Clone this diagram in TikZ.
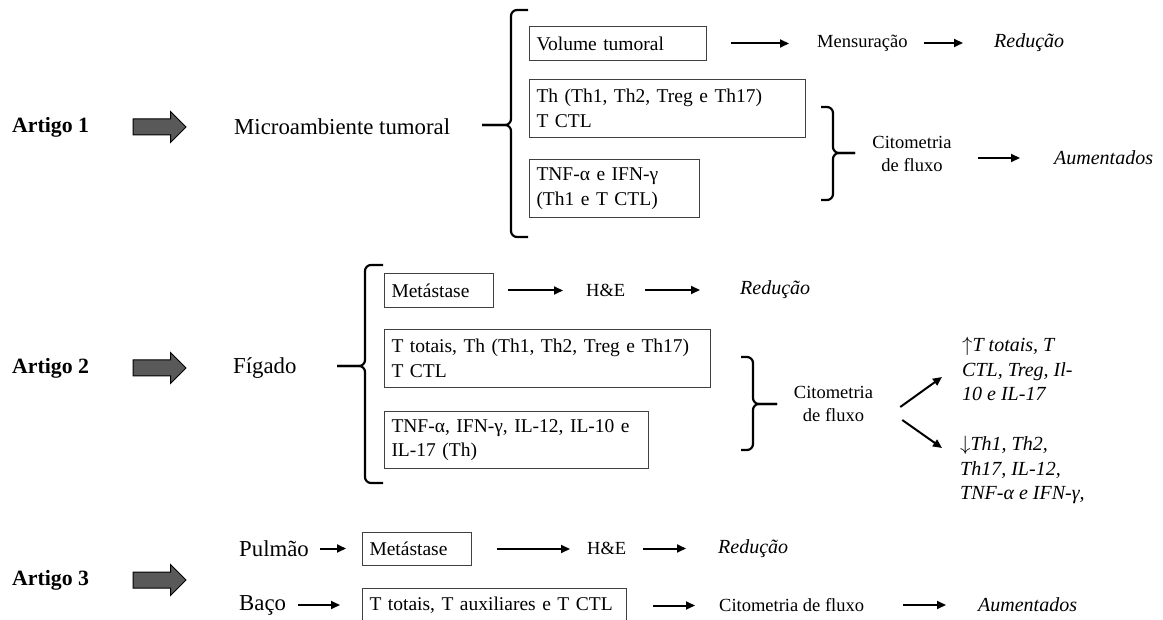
\documentclass[tikz,border=0pt]{standalone}
\usepackage{fontspec}
\setmainfont{Liberation Serif}
\usetikzlibrary{arrows.meta, shapes.arrows}

\begin{document}
\begin{tikzpicture}[x=1pt, y=-1pt,
    lbl/.style={anchor=west, inner sep=0pt},
    big/.style={font=\fontsize{22.8}{27}\selectfont},
    art/.style={lbl, font=\fontsize{21.8}{26}\selectfont\bfseries},
    mtd/.style={font=\fontsize{18.5}{23}\selectfont},
    res/.style={font=\fontsize{20}{24.5}\selectfont\itshape},
    box/.style={draw=black!75, line width=1pt, inner xsep=7pt, inner ysep=0pt,
        align=left, anchor=north west, font=\fontsize{19.5}{24.5}\selectfont},
    blk/.style={single arrow, draw=black, line width=1pt, fill=black!65,
        minimum height=53pt, inner xsep=0pt, inner ysep=7.5pt, single arrow head extend=7.5pt},
    arr/.style={line width=2pt, -{Triangle[length=9pt,width=8pt]}},
    brc/.style={line width=2.2pt, rounded corners=6pt},
]
    \useasboundingbox (0,0) rectangle (1163,620);

    % Artigo 1
    \node[art] (art1) at (12,127) {Artigo 1};
    \node[blk] (blk1) at (155.5,127) {};
    \node[lbl, big] (mic) at (234,127) {Microambiente tumoral};
    \draw[brc] (528,10) -- (511,10) -- (511,125) -- (482,125);
    \draw[brc] (482,125) -- (511,125) -- (511,237) -- (528,237);

    \node[box, text width=163pt, minimum height=34pt] (vol) at (529,26) {Volume tumoral};
    \node[lbl, mtd] (mens) at (817,43) {Mensuração};
    \node[lbl, res] (red1) at (994,43) {Redução};
    \draw[arr] ([xshift=24pt]vol.east) -- ([xshift=-28pt]vol.east -| mens.west);
    \draw[arr] ([xshift=16pt]mens.east) -- ([xshift=-31pt]mens.east -| red1.west);

    \node[box, text width=262pt, minimum height=58pt] (th1) at (529,79) {Th (Th1, Th2, Treg e Th17)\\T CTL};
    \node[box, text width=156pt, minimum height=58pt] (tnf1) at (529,159) {TNF-α e IFN-γ\\(Th1 e T CTL)};
    \draw[brc] (821,107) -- (833,107) -- (833,153) -- (855,153);
    \draw[brc] (855,153) -- (833,153) -- (833,200) -- (821,200);
    \node[mtd, align=center, inner sep=0pt] (cit1) at (912,153.5) {Citometria\\de fluxo};
    \node[lbl, res] (aum1) at (1054,158) {Aumentados};
    \draw[arr] ([xshift=26pt]cit1.east |- aum1.west) -- ([xshift=-34pt]aum1.west);

    % Artigo 2
    \node[art] (art2) at (12,368) {Artigo 2};
    \node[blk] (blk2) at (155.5,368) {};
    \node[lbl, big] (fig) at (233,368) {Fígado};
    \draw[brc] (383,265) -- (365,265) -- (365,366) -- (337,366);
    \draw[brc] (337,366) -- (365,366) -- (365,483) -- (383,483);

    \node[box, text width=95pt, minimum height=34pt] (met2) at (384,273) {Metástase};
    \node[lbl, mtd] (he2) at (586,290) {H\&E};
    \node[lbl, res] (red2) at (740,290) {Redução};
    \draw[arr] ([xshift=14pt]met2.east) -- ([xshift=-23pt]met2.east -| he2.west);
    \draw[arr] ([xshift=20pt]he2.east) -- ([xshift=-40pt]he2.east -| red2.west);

    \node[box, text width=312pt, minimum height=58pt] (tt2) at (384,329) {T totais, Th (Th1, Th2, Treg e Th17)\\T CTL};
    \node[box, text width=250pt, minimum height=57pt] (tnf2) at (384,411) {TNF-α, IFN-γ, IL-12, IL-10 e\\IL-17 (Th)};
    \draw[brc] (741,357) -- (753,357) -- (753,404) -- (777,404);
    \draw[brc] (777,404) -- (753,404) -- (753,450) -- (741,450);
    \node[mtd, align=center, inner sep=0pt] (cit2) at (833.5,404) {Citometria\\de fluxo};

    \node[res, anchor=west, align=left, inner sep=0pt] (up) at (962,369) {\(\uparrow\)T totais, T\\CTL, Treg, Il-\\10 e IL-17};
    \node[res, anchor=west, align=left, inner sep=0pt] (dn) at (960,470) {\(\downarrow\)Th1, Th2,\\Th17, IL-12,\\TNF-α e IFN-γ,};
    \draw[arr] ([shift={(27,3)}]cit2.east) -- ([shift={(-20,8)}]up.west);
    \draw[arr] ([shift={(29,16)}]cit2.east) -- ([shift={(-18,-22)}]dn.west);

    % Artigo 3
    \node[art] (art3) at (12,580) {Artigo 3};
    \node[blk] (blk3) at (155.5,580) {};
    \node[lbl, big] (pul) at (239,548.5) {Pulmão};
    \node[box, text width=95pt, minimum height=33pt] (met3) at (362,532) {Metástase};
    \node[lbl, mtd] (he3) at (587,548.5) {H\&E};
    \node[lbl, res] (red3) at (718,548.5) {Redução};
    \draw[arr] ([xshift=11pt]pul.east) -- ([xshift=-16pt]pul.east -| met3.west);
    \draw[arr] ([xshift=25pt]met3.east) -- ([xshift=-17pt]met3.east -| he3.west);
    \draw[arr] ([xshift=17pt]he3.east) -- ([xshift=-32pt]he3.east -| red3.west);

    \node[lbl, big] (bac) at (239,605) {Baço};
    \node[box, text width=250pt, minimum height=34pt] (tt3) at (362,588) {T totais, T auxiliares e T CTL};
    \node[lbl, mtd] (cit3) at (719,605) {Citometria de fluxo};
    \node[lbl, res] (aum3) at (978,605) {Aumentados};
    \draw[arr] ([xshift=12pt]bac.east) -- ([xshift=-22pt]bac.east -| tt3.west);
    \draw[arr] ([xshift=26pt]tt3.east) -- ([xshift=-24pt]tt3.east -| cit3.west);
    \draw[arr] ([xshift=39pt]cit3.east) -- ([xshift=-32pt]cit3.east -| aum3.west);
\end{tikzpicture}
\end{document}
